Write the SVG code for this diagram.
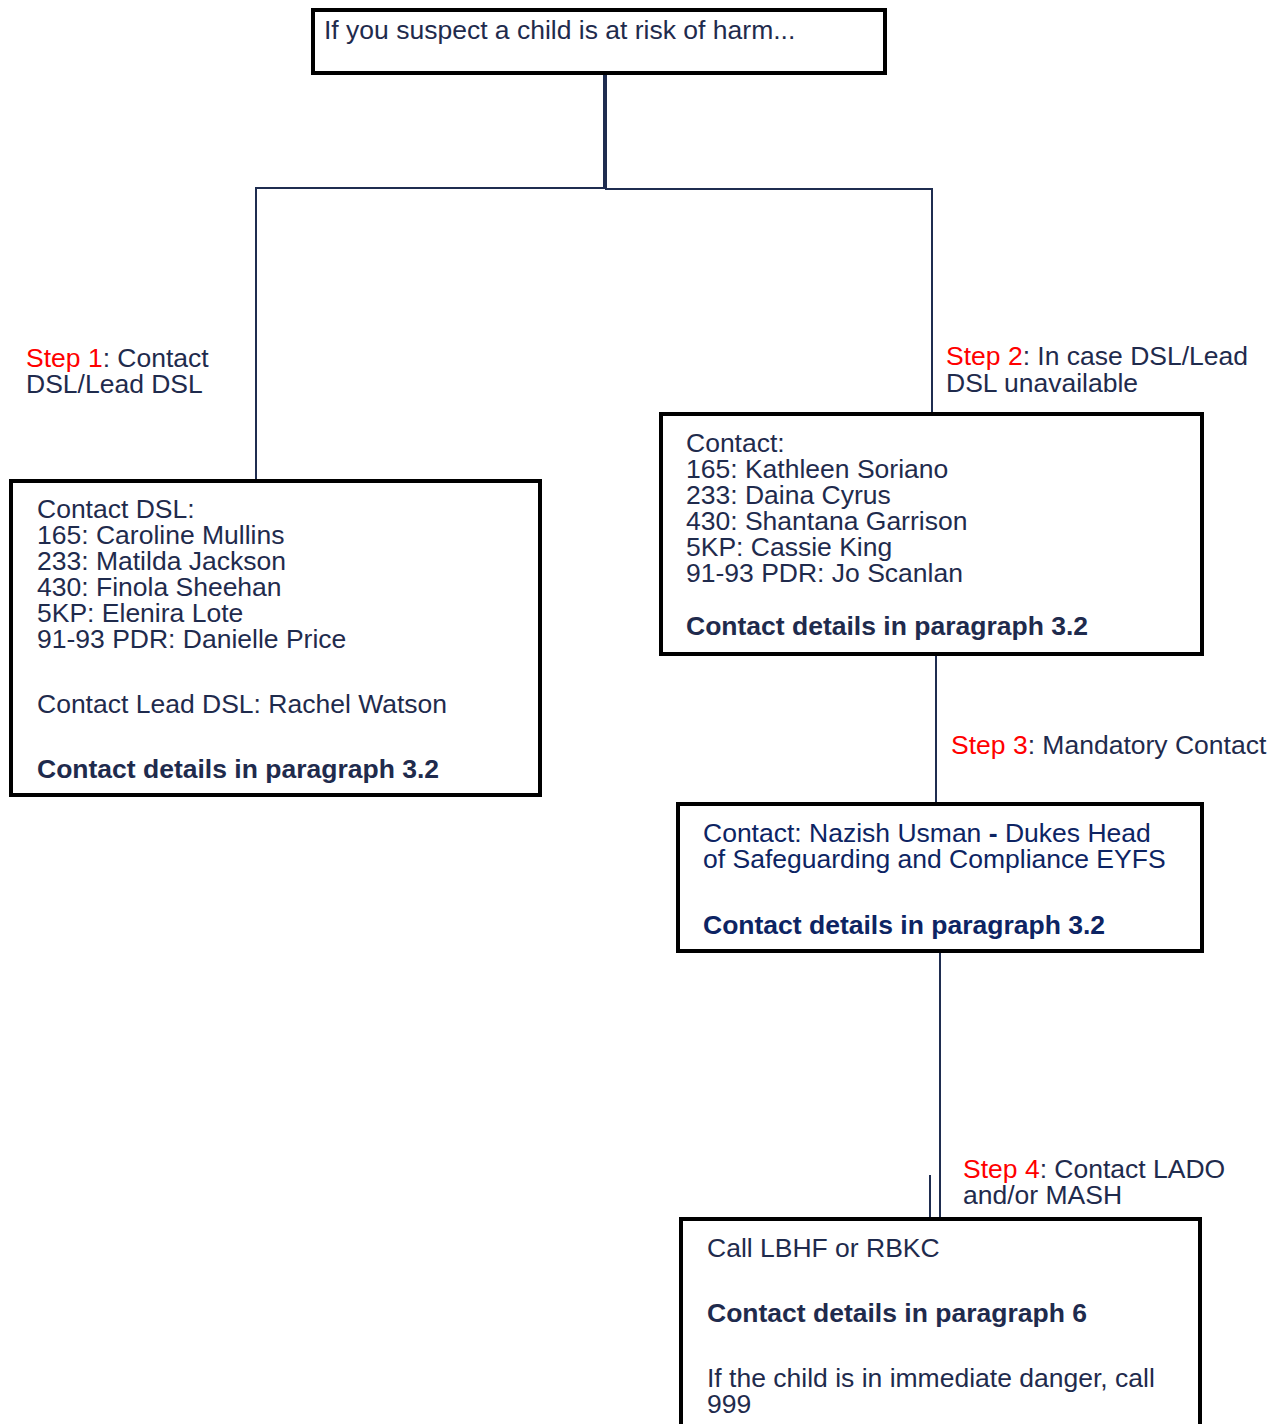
<svg xmlns="http://www.w3.org/2000/svg" width="1288" height="1424" viewBox="0 0 1288 1424">
<style>
.box{fill:#ffffff;stroke:#000000;stroke-width:4}
.t{font-family:"Liberation Sans",Arial,sans-serif;font-size:26.5px;fill:#1f2b4d}
.tb{font-family:"Liberation Sans",Arial,sans-serif;font-size:26.5px;font-weight:bold;fill:#1f2b4d}
.blue{fill:#0d2463}
.red{fill:#ff0000}
.c{stroke:#1f2d50;stroke-width:2;fill:none}
.ct{stroke:#1f2d50;stroke-width:4;fill:none}
</style>
<rect width="1288" height="1424" fill="#ffffff"/>
<g id="connectors">
<line class="ct" x1="605" y1="73" x2="605" y2="189"/>
<polyline class="c" points="256,481 256,188 605,188"/>
<polyline class="c" points="605,189 932,189 932,414"/>
<line class="c" x1="936" y1="654" x2="936" y2="804"/>
<line class="c" x1="940" y1="951" x2="940" y2="1219"/>
<line class="c" x1="930" y1="1175" x2="930" y2="1219"/>
</g>
<g id="labels">
<text class="t" x="26" y="367"><tspan class="red">Step 1</tspan>: Contact</text>
<text class="t" x="26" y="393">DSL/Lead DSL</text>
<text class="t" x="946" y="365"><tspan class="red">Step 2</tspan>: In case DSL/Lead</text>
<text class="t" x="946" y="392">DSL unavailable</text>
<text class="t" x="951" y="754"><tspan class="red">Step 3</tspan>: Mandatory Contact</text>
<text class="t" x="963" y="1178"><tspan class="red">Step 4</tspan>: Contact LADO</text>
<text class="t" x="963" y="1204">and/or MASH</text>
</g>
<g id="start">
<rect class="box" x="313" y="10" width="572" height="63"/>
<text class="t" x="324" y="39">If you suspect a child is at risk of harm...</text>
</g>
<g id="dsl">
<rect class="box" x="11" y="481" width="529" height="314"/>
<text class="t" x="37" y="518">Contact DSL:</text>
<text class="t" x="37" y="544">165: Caroline Mullins</text>
<text class="t" x="37" y="570">233: Matilda Jackson</text>
<text class="t" x="37" y="596">430: Finola Sheehan</text>
<text class="t" x="37" y="622">5KP: Elenira Lote</text>
<text class="t" x="37" y="648">91-93 PDR: Danielle Price</text>
<text class="t" x="37" y="713">Contact Lead DSL: Rachel Watson</text>
<text class="tb" x="37" y="778">Contact details in paragraph 3.2</text>
</g>
<g id="deputy">
<rect class="box" x="661" y="414" width="541" height="240"/>
<text class="t" x="686" y="452">Contact:</text>
<text class="t" x="686" y="478">165: Kathleen Soriano</text>
<text class="t" x="686" y="504">233: Daina Cyrus</text>
<text class="t" x="686" y="530">430: Shantana Garrison</text>
<text class="t" x="686" y="556">5KP: Cassie King</text>
<text class="t" x="686" y="582">91-93 PDR: Jo Scanlan</text>
<text class="tb" x="686" y="635">Contact details in paragraph 3.2</text>
</g>
<g id="mandatory">
<rect class="box" x="678" y="804" width="524" height="147"/>
<text class="t blue" x="703" y="842">Contact: Nazish Usman <tspan font-weight="bold">-</tspan> Dukes Head</text>
<text class="t blue" x="703" y="868">of Safeguarding and Compliance EYFS</text>
<text class="tb blue" x="703" y="934">Contact details in paragraph 3.2</text>
</g>
<g id="lado">
<rect class="box" x="681" y="1219" width="519" height="230"/>
<text class="t" x="707" y="1257">Call LBHF or RBKC</text>
<text class="tb" x="707" y="1322">Contact details in paragraph 6</text>
<text class="t" x="707" y="1387">If the child is in immediate danger, call</text>
<text class="t" x="707" y="1413">999</text>
</g>
</svg>
